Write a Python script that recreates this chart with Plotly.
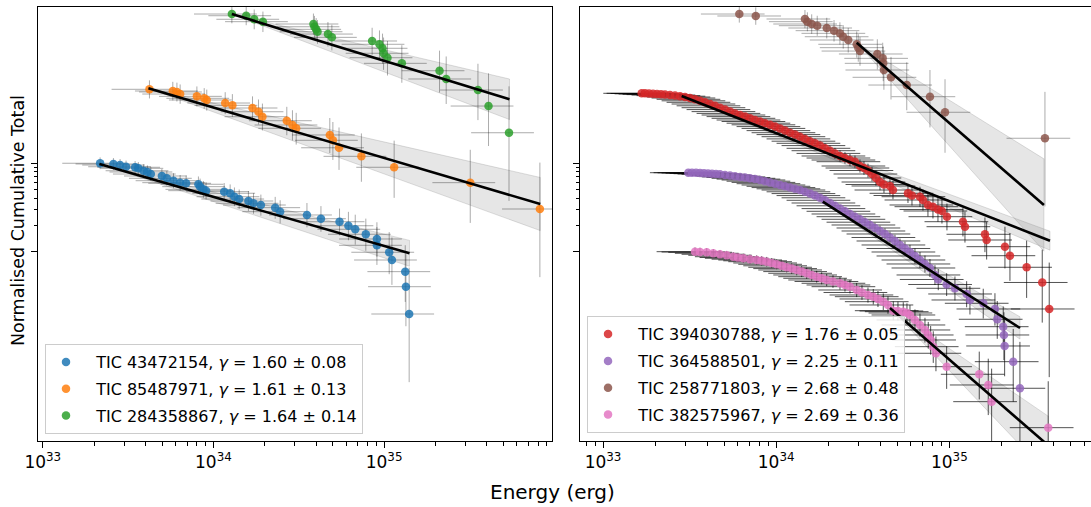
import numpy as np
import plotly.graph_objects as go

# ---------------- data ----------------
# log10 energy (erg) and log10 normalised cumulative total, per star
tic43472154_logE = [33.336, 33.414, 33.453, 33.488, 33.541, 33.560, 33.590, 33.613, 33.633, 33.698,
                    33.727, 33.766, 33.805, 33.840, 33.912, 33.922, 33.941, 33.957, 34.063, 34.098,
                    34.123, 34.151, 34.205, 34.235, 34.278, 34.362, 34.391, 34.548, 34.630, 34.739,
                    34.791, 34.831, 34.893, 34.958, 34.958, 35.030, 35.046, 35.124, 35.128, 35.147]
tic43472154_logN = [-0.003, -0.011, -0.023, -0.042, -0.048, -0.060, -0.087, -0.101, -0.124, -0.146,
                    -0.172, -0.199, -0.221, -0.228, -0.239, -0.266, -0.296, -0.311, -0.322, -0.340,
                    -0.379, -0.405, -0.427, -0.453, -0.472, -0.502, -0.547, -0.584, -0.626, -0.660,
                    -0.705, -0.745, -0.801, -0.854, -0.925, -1.003, -1.090, -1.221, -1.390, -1.697]

tic85487971_logE = [33.625, 33.762, 33.786, 33.805, 33.903, 33.946, 33.961, 34.069, 34.111, 34.229,
                    34.264, 34.287, 34.430, 34.463, 34.485, 34.682, 34.700, 34.736, 34.867, 35.059,
                    35.505, 35.913]
tic85487971_logN = [0.828, 0.809, 0.798, 0.775, 0.749, 0.727, 0.708, 0.674, 0.648, 0.618,
                    0.576, 0.520, 0.475, 0.427, 0.390, 0.315, 0.255, 0.171, 0.075, -0.048,
                    -0.221, -0.517]

tic284358867_logE = [34.108, 34.192, 34.239, 34.290, 34.586, 34.592, 34.602, 34.610, 34.671, 34.694,
                     34.930, 34.973, 34.991, 34.997, 35.020, 35.104, 35.325, 35.364, 35.550, 35.612,
                     35.732]
tic284358867_logN = [1.674, 1.655, 1.615, 1.588, 1.562, 1.531, 1.502, 1.475, 1.449, 1.412,
                     1.371, 1.334, 1.289, 1.233, 1.183, 1.120, 1.037, 0.944, 0.820, 0.640,
                     0.340]

tic394030788_logE = [33.2234, 33.2425, 33.2656, 33.2887, 33.3118, 33.3349, 33.3580,
                     33.3868, 33.4157, 33.4446, 33.4734, 33.5023, 33.5312, 33.5600, 33.5889, 33.6178, 33.6467,
                     33.6755, 33.7044, 33.7333, 33.7621, 33.7910, 33.8199, 33.8487, 33.8776, 33.9065, 33.9353,
                     33.9642, 33.9931, 34.0219, 34.0508, 34.0797, 34.1085, 34.1374, 34.1663, 34.1952, 34.2240,
                     34.2529, 34.2818, 34.3106, 34.3395, 34.3684, 34.3972, 34.4261, 34.4550, 34.4838,
                     34.5069, 34.5300, 34.5531, 34.5762, 34.5993, 34.6224,
                     34.6570, 34.6744,
                     34.7610, 34.7841, 34.8303, 34.8476, 34.8764, 34.9053, 34.9342, 34.9573, 34.9861,
                     35.0785, 35.0901, 35.2055, 35.2154, 35.3210, 35.3499, 35.4463, 35.5364, 35.5768]
tic394030788_logN = [0.7831, 0.7831, 0.7809, 0.7775, 0.7753, 0.7719, 0.7685,
                     0.7640, 0.7573, 0.7506, 0.7416, 0.7303, 0.7157, 0.6989, 0.6820, 0.6629, 0.6427,
                     0.6213, 0.6000, 0.5775, 0.5573, 0.5393, 0.5213, 0.5022, 0.4831, 0.4663, 0.4472,
                     0.4292, 0.4090, 0.3888, 0.3640, 0.3404, 0.3191, 0.2955, 0.2708, 0.2449, 0.2213,
                     0.1955, 0.1652, 0.1382, 0.1079, 0.0787, 0.0562, 0.0337, 0.0146, -0.0337,
                     -0.0562, -0.0843, -0.1236, -0.1685, -0.2135, -0.2416,
                     -0.2584, -0.3034,
                     -0.3404, -0.3652, -0.3787, -0.4157, -0.4719, -0.4910, -0.5225, -0.5393, -0.6034,
                     -0.6596, -0.7157, -0.8011, -0.8652, -0.9404, -1.0416, -1.1719, -1.3427, -1.6404]

tic364588501_logE = [33.4925, 33.5139, 33.5370, 33.5600, 33.5831, 33.6062, 33.6293, 33.6524,
                     33.6755, 33.7044, 33.7333, 33.7621, 33.7910, 33.8199, 33.8487, 33.8776, 33.9065,
                     33.9353, 33.9642, 33.9931, 34.0219, 34.0508, 34.0797, 34.1085, 34.1374,
                     34.1663, 34.1952, 34.2240, 34.2529, 34.2818, 34.3106, 34.3395, 34.3684,
                     34.3972, 34.4261, 34.4550, 34.4838,
                     34.5127, 34.5416, 34.5704, 34.5993, 34.6282, 34.6570, 34.6859, 34.7148,
                     34.7436, 34.7725, 34.8014, 34.8303, 34.8591, 34.8880, 34.9169,
                     34.9359, 34.9844, 35.0323, 35.0999, 35.1189, 35.1957, 35.2633, 35.2766, 35.3112,
                     35.3152, 35.3193, 35.3689, 35.4076]
tic364588501_logN = [-0.1090, -0.1090, -0.1101, -0.1124, -0.1146, -0.1169, -0.1202, -0.1236,
                     -0.1270, -0.1337, -0.1404, -0.1483, -0.1562, -0.1629, -0.1719, -0.1809, -0.1910,
                     -0.2045, -0.2180, -0.2326, -0.2472, -0.2618, -0.2764, -0.2899, -0.3034,
                     -0.3236, -0.3438, -0.3663, -0.3910, -0.4191, -0.4494, -0.4809, -0.5124,
                     -0.5427, -0.5730, -0.6034, -0.6326,
                     -0.6652, -0.6966, -0.7303, -0.7640, -0.7978, -0.8371, -0.8764, -0.9213,
                     -0.9607, -1.0000, -1.0449, -1.0899, -1.1348, -1.1798, -1.2584,
                     -1.3090, -1.3652, -1.4079, -1.4719, -1.5393, -1.5764, -1.6404, -1.7562, -1.8393,
                     -1.9326, -2.0562, -2.2326, -2.5315]

tic258771803_logE = [33.787, 33.882, 34.166, 34.180, 34.205, 34.237, 34.292, 34.334, 34.368, 34.387,
                     34.416, 34.465, 34.474, 34.484, 34.584, 34.615, 34.618, 34.622, 34.663, 34.754,
                     34.888, 34.975, 35.552]
tic258771803_logN = [1.674, 1.652, 1.618, 1.588, 1.562, 1.543, 1.517, 1.487, 1.457, 1.419,
                     1.382, 1.334, 1.296, 1.258, 1.225, 1.176, 1.120, 1.045, 0.963, 0.876,
                     0.745, 0.570, 0.278]

tic382575967_logE = [33.5312, 33.5600, 33.5987, 33.6368, 33.6755, 33.7142, 33.7523, 33.7794, 33.8100, 33.8487,
                     33.8874, 33.9163, 33.9451, 33.9740, 34.0029, 34.0318, 34.0606, 34.0895, 34.1184, 34.1472,
                     34.1761, 34.2050, 34.2338, 34.2627, 34.2916, 34.3279, 34.3684, 34.3972, 34.4261, 34.4648,
                     34.4954, 34.5300, 34.5606, 34.5878, 34.6184, 34.6455, 34.6761, 34.7032, 34.7338, 34.7552,
                     34.7725, 34.8014, 34.8303, 34.8591, 34.8782, 34.8920, 34.9070, 34.9226, 34.9844, 35.1727,
                     35.2246, 35.2442, 35.5710]
tic382575967_logN = [-0.9966, -1.0000, -1.0034, -1.0146, -1.0258, -1.0371, -1.0528, -1.0618, -1.0708, -1.0809,
                     -1.0899, -1.0989, -1.1090, -1.1236, -1.1382, -1.1551, -1.1719, -1.1865, -1.2022, -1.2202,
                     -1.2393, -1.2584, -1.2775, -1.2955, -1.3146, -1.3315, -1.3517, -1.3708, -1.3899, -1.4270,
                     -1.4551, -1.4831, -1.5022, -1.5281, -1.5584, -1.5955, -1.6596, -1.6629, -1.6708, -1.6854,
                     -1.7079, -1.7640, -1.8202, -1.8764, -1.9326, -1.9888, -2.0640, -2.1382, -2.2888, -2.3742,
                     -2.4944, -2.6820, -2.9742]

# power-law fits: [start, end] in log10 energy and log10 normalised total
fit_logE = {
    "43472154": [33.332, 35.149], "85487971": [33.619, 35.915], "284358867": [34.108, 35.735],
    "394030788": [33.454, 35.581], "364588501": [34.269, 35.408], "258771803": [34.465, 35.546],
    "382575967": [34.657, 35.571]}
fit_logN = {
    "43472154": [-0.011, -1.015], "85487971": [0.839, -0.461], "284358867": [1.674, 0.716],
    "394030788": [0.753, -0.873], "364588501": [-0.435, -1.854], "258771803": [1.352, -0.472],
    "382575967": [-1.629, -3.174]}

gamma = {"43472154": 1.60, "85487971": 1.61, "284358867": 1.64, "394030788": 1.76,
         "364588501": 2.25, "258771803": 2.68, "382575967": 2.69}
gamma_err = {"43472154": 0.08, "85487971": 0.13, "284358867": 0.14, "394030788": 0.05,
             "364588501": 0.11, "258771803": 0.48, "382575967": 0.36}

colors = {"43472154": "#1f77b4", "85487971": "#ff7f0e", "284358867": "#2ca02c",
          "394030788": "#d62728", "364588501": "#9467bd", "258771803": "#8c564b",
          "382575967": "#e377c2"}

series_left = [("43472154", tic43472154_logE, tic43472154_logN),
               ("85487971", tic85487971_logE, tic85487971_logN),
               ("284358867", tic284358867_logE, tic284358867_logN)]
series_right = [("394030788", tic394030788_logE, tic394030788_logN),
                ("364588501", tic364588501_logE, tic364588501_logN),
                ("258771803", tic258771803_logE, tic258771803_logN),
                ("382575967", tic382575967_logE, tic382575967_logN)]
dense = {"394030788", "364588501", "382575967"}


def poisson_limits(n):
    """Gehrels (1986) 1-sigma Poisson limits for n counts."""
    up = np.sqrt(n + 0.75) + 1.0
    lo = n - n * (1 - 1 / (9 * n) - 1 / (3 * np.sqrt(n))) ** 3
    return up, lo


fig = go.Figure()


def add_panel(series, xa, ya, legend):
    # bands
    for tic, _, _ in series:
        le = np.array(fit_logE[tic]); ln = np.array(fit_logN[tic])
        d = le[1] - le[0]
        e = gamma_err[tic]
        bx = 10 ** np.array([le[0], le[1], le[1], le[0]])
        by = 10 ** np.array([ln[0], ln[1] + e * d, ln[1] - e * d, ln[0]])
        fig.add_trace(go.Scatter(x=bx, y=by, mode="lines", fill="toself",
                                 fillcolor="rgba(128,128,128,0.2)",
                                 line=dict(color="rgba(128,128,128,0.25)", width=1),
                                 xaxis=xa, yaxis=ya, showlegend=False, hoverinfo="skip"))
    # data
    for tic, logE, logN in series:
        E = 10 ** np.array(logE)
        N = 10 ** np.array(logN)
        unit = N.min()
        counts = N / unit
        up, lo = poisson_limits(counts)
        ecol = "rgba(0,0,0,0.68)" if tic in dense else "rgba(0,0,0,0.33)"
        name = ("\u00a0\u00a0TIC %s, <i>γ</i> = %.2f ± %.2f" % (tic, gamma[tic], gamma_err[tic]))
        fig.add_trace(go.Scatter(
            x=E, y=N, mode="markers", name=name, legend=legend, legendgroup=tic,
            marker=dict(color=colors[tic], size=8.5, opacity=0.85, line=dict(width=0)),
            error_x=dict(type="percent", value=40, color=ecol, thickness=1, width=0),
            error_y=dict(type="data", symmetric=False, array=up * unit, arrayminus=lo * unit,
                         color=ecol, thickness=1, width=0),
            xaxis=xa, yaxis=ya))
    # fit lines
    for tic, _, _ in series:
        fig.add_trace(go.Scatter(x=10 ** np.array(fit_logE[tic]), y=10 ** np.array(fit_logN[tic]),
                                 mode="lines", line=dict(color="black", width=2.6),
                                 xaxis=xa, yaxis=ya, showlegend=False, hoverinfo="skip"))


add_panel(series_left, "x", "y", "legend")
add_panel(series_right, "x2", "y2", "legend2")

x_major = [1e33, 1e34, 1e35]
x_major_text = ["10<sup>33</sup>", "10<sup>34</sup>", "10<sup>35</sup>"]
x_minor = [k * 10.0 ** d for d in (32, 33, 34, 35) for k in range(2, 10)]
y_major = [0.1, 1.0]
y_minor = [0.2, 0.3, 0.4, 0.5, 0.6, 0.7, 0.8, 0.9]

xcommon = dict(type="log", showline=True, linecolor="black", linewidth=1, mirror=True,
               ticks="outside", ticklen=6, tickwidth=1, tickcolor="black",
               tickmode="array", tickvals=x_major, ticktext=x_major_text,
               tickfont=dict(size=17, color="black"), showgrid=False, zeroline=False,
               minor=dict(tickmode="array", tickvals=x_minor, ticks="outside", ticklen=3.5,
                          tickwidth=0.8, tickcolor="black", showgrid=False))
ycommon = dict(type="log", range=[-3.124, 1.753], showline=True, linecolor="black", linewidth=1,
               ticks="outside", ticklen=6, tickwidth=1, tickcolor="black",
               tickmode="array", tickvals=y_major, showticklabels=False,
               showgrid=False, zeroline=False,
               minor=dict(tickmode="array", tickvals=y_minor, ticks="outside", ticklen=3.5,
                          tickwidth=0.8, tickcolor="black", showgrid=False))

legend_common = dict(xanchor="left", yanchor="bottom", bordercolor="#cccccc", borderwidth=1,
                     bgcolor="rgba(255,255,255,0.85)", tracegroupgap=3,
                     font=dict(size=16, family="DejaVu Sans"))

fig.update_layout(
    width=1091, height=507,
    margin=dict(l=38, r=0, t=7, b=66),
    plot_bgcolor="white", paper_bgcolor="white",
    font=dict(family="DejaVu Sans", color="black"),
    xaxis=dict(xcommon, domain=[0, 0.48813], range=[32.972, 35.984], anchor="y"),
    xaxis2=dict(xcommon, domain=[0.51472, 1.0], range=[32.867, 35.818], anchor="y2"),
    yaxis=dict(ycommon, domain=[0, 1], anchor="x", mirror=True),
    yaxis2=dict(ycommon, domain=[0, 1], anchor="x2", mirror=False),
    legend=dict(legend_common, x=0.00665, y=0.016),
    legend2=dict(legend_common, x=0.5214, y=0.018),
    annotations=[
        dict(text="Energy (erg)", x=0.489, y=-0.1175, xref="paper", yref="paper",
             showarrow=False, font=dict(size=20), xanchor="center", yanchor="middle"),
        dict(text="Normalised Cumulative Total", x=-0.019, y=0.509, xref="paper", yref="paper",
             showarrow=False, font=dict(size=17.5), textangle=-90,
             xanchor="center", yanchor="middle"),
    ],
)

fig.write_html("out.html", config={"displayModeBar": False},
               post_script="document.body.style.margin='0';")
